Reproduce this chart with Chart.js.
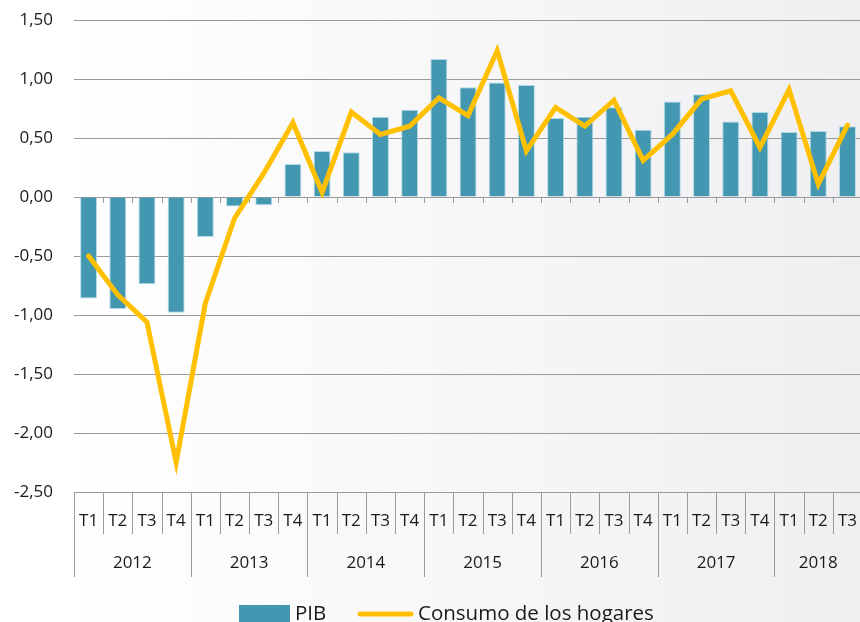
<!DOCTYPE html>
<html>
<head>
<meta charset="utf-8">
<script src="https://cdn.jsdelivr.net/npm/chart.js@4.4.1/dist/chart.umd.min.js"></script>
<style>
	html, body { margin: 0; padding: 0; overflow: hidden; background: #fff; }
	#wrap { width: 876px; height: 640px; }
</style>
</head>
<body>
<div id="wrap"><canvas id="chart" width="876" height="640"></canvas></div>
<script>
// datos trimestrales
const years = ["2012", "2013", "2014", "2015", "2016", "2017", "2018"];
const quarterLabels = [
	"T1", "T2", "T3", "T4", "T1", "T2", "T3", "T4", "T1", "T2", "T3", "T4",
	"T1", "T2", "T3", "T4", "T1", "T2", "T3", "T4", "T1", "T2", "T3", "T4",
	"T1", "T2", "T3"
];
const yearOfQuarter = [
	"2012", "2012", "2012", "2012", "2013", "2013", "2013", "2013",
	"2014", "2014", "2014", "2014", "2015", "2015", "2015", "2015",
	"2016", "2016", "2016", "2016", "2017", "2017", "2017", "2017",
	"2018", "2018", "2018"
];
const pib = [
	-0.86, -0.95, -0.74, -0.98, -0.34, -0.08, -0.07, 0.28,
	0.39, 0.38, 0.68, 0.74, 1.17, 0.93, 0.97, 0.95,
	0.67, 0.68, 0.76, 0.57, 0.81, 0.87, 0.64, 0.72,
	0.55, 0.56, 0.60
];
const consumo = [
	-0.50, -0.83, -1.06, -2.25, -0.90, -0.18, 0.20, 0.63,
	0.04, 0.72, 0.53, 0.60, 0.84, 0.69, 1.24, 0.39,
	0.76, 0.60, 0.82, 0.31, 0.53, 0.83, 0.90, 0.42,
	0.91, 0.11, 0.61
];

const FONT = "'Open Sans', sans-serif";
const gridGray = "#9a9a9a";

const decor = {
	id: "decor",
	beforeDraw(chart) {
		const c = chart.ctx;
		const g = c.createLinearGradient(0, 0, 860, 0);
		g.addColorStop(0, "#ffffff");
		g.addColorStop(0.08, "#ffffff");
		g.addColorStop(1, "#efeff2");
		c.save();
		c.fillStyle = g;
		c.fillRect(0, 0, chart.width, chart.height);
		c.restore();
	},
	beforeDatasetsDraw(chart) {
		const c = chart.ctx;
		const x = chart.scales.x, y = chart.scales.y;
		const y0 = y.getPixelForValue(0);
		const half = (x.getPixelForValue(1) - x.getPixelForValue(0)) / 2;
		c.save();
		c.strokeStyle = gridGray;
		c.lineWidth = 1;
		for (let i = 1; i < quarterLabels.length; i++) {
			const px = Math.round(x.getPixelForValue(i) - half) + 0.5;
			c.beginPath();
			c.moveTo(px, y0);
			c.lineTo(px, y0 + 6);
			c.stroke();
		}
		c.restore();
	},
	afterDraw(chart) {
		const c = chart.ctx;
		const x = chart.scales.x;
		const area = chart.chartArea;
		const half = (x.getPixelForValue(1) - x.getPixelForValue(0)) / 2;
		c.save();
		c.strokeStyle = gridGray;
		c.lineWidth = 1;
		// separadores de trimestre y de año
		for (let i = 0; i < quarterLabels.length; i++) {
			const px = Math.round(x.getPixelForValue(i) - half) + 0.5;
			const isYear = i === 0 || yearOfQuarter[i] !== yearOfQuarter[i - 1];
			c.beginPath();
			c.moveTo(px, area.bottom);
			c.lineTo(px, area.bottom + (isYear ? 85 : 42));
			c.stroke();
		}
		// etiquetas de año
		c.fillStyle = "#1a1a1a";
		c.font = "17px " + FONT;
		c.textAlign = "center";
		c.textBaseline = "middle";
		years.forEach(yr => {
			const first = yearOfQuarter.indexOf(yr);
			const last = yearOfQuarter.lastIndexOf(yr);
			const a = x.getPixelForValue(first) - half;
			const b = x.getPixelForValue(last) + half;
			c.fillText(yr, (a + b) / 2, area.bottom + 71);
		});
		// leyenda
		const ly = 614;
		c.font = "20.5px " + FONT;
		c.textAlign = "left";
		c.fillStyle = chart.data.datasets[1].backgroundColor;
		c.fillRect(239, 605, 51, 20);
		c.fillStyle = "#1a1a1a";
		c.fillText(chart.data.datasets[1].label, 295, ly);
		c.strokeStyle = chart.data.datasets[0].borderColor;
		c.lineWidth = 5;
		c.lineCap = "round";
		c.beginPath();
		c.moveTo(360, ly);
		c.lineTo(411, ly);
		c.stroke();
		c.fillText(chart.data.datasets[0].label, 418, ly);
		c.restore();
	}
};

const data = {
	labels: quarterLabels,
	datasets: [{
		type: "line",
		label: "Consumo de los hogares",
		data: consumo,
		borderColor: "#ffc000",
		backgroundColor: "#ffc000",
		borderWidth: 5,
		pointRadius: 0,
		tension: 0,
		borderCapStyle: "round",
		order: 0
	}, {
		type: "bar",
		label: "PIB",
		data: pib,
		backgroundColor: "#4397b0",
		borderColor: "rgba(170, 215, 228, 0.9)",
		borderWidth: 1,
		categoryPercentage: 1,
		barPercentage: 0.58,
		order: 1
	}]
};

const config = {
	data: data,
	options: {
		responsive: false,
		animation: false,
		layout: {
			padding: { top: 20, right: 0, bottom: 0, left: 0 }
		},
		plugins: {
			legend: { display: false },
			tooltip: { enabled: false }
		},
		scales: {
			x: {
				type: "category",
				offset: true,
				grid: { display: false, drawTicks: false },
				border: { display: false },
				ticks: {
					color: "#1a1a1a",
					font: { family: FONT, size: 17 },
					padding: 19,
					maxRotation: 0,
					autoSkip: false
				},
				afterFit(scale) { scale.height = 148; }
			},
			y: {
				min: -2.5,
				max: 1.5,
				grid: { color: gridGray, lineWidth: 1, drawTicks: false },
				border: { display: false },
				ticks: {
					stepSize: 0.5,
					color: "#1a1a1a",
					font: { family: FONT, size: 17 },
					padding: 21,
					callback: v => v.toFixed(2).replace(".", ",")
				},
				afterFit(scale) {
					scale.width = 74;
					scale.paddingTop = 0;
					scale.paddingBottom = 0;
				}
			}
		}
	},
	plugins: [decor]
};

let chart = new Chart(document.getElementById("chart"), config);
</script>
</body>
</html>
